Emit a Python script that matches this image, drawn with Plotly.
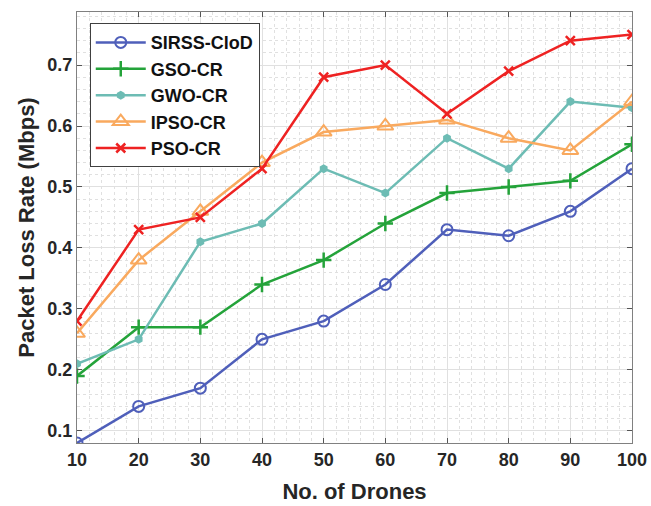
import plotly.graph_objects as go

drones = [10, 20, 30, 40, 50, 60, 70, 80, 90, 100]
sirss = [0.08, 0.14, 0.17, 0.25, 0.28, 0.34, 0.43, 0.42, 0.46, 0.53]
gso = [0.19, 0.27, 0.27, 0.34, 0.38, 0.44, 0.49, 0.50, 0.51, 0.57]
gwo = [0.21, 0.25, 0.41, 0.44, 0.53, 0.49, 0.58, 0.53, 0.64, 0.63]
ipso = [0.26, 0.38, 0.46, 0.54, 0.59, 0.60, 0.61, 0.58, 0.56, 0.64]
pso = [0.28, 0.43, 0.45, 0.53, 0.68, 0.70, 0.62, 0.69, 0.74, 0.75]

series = [
    ("SIRSS-CloD", sirss, "#4f5fba", dict(symbol="circle-open", size=11, line=dict(width=2))),
    ("GSO-CR", gso, "#24a33a", dict(symbol="cross-thin", size=11, line=dict(width=2.5, color="#24a33a"))),
    ("GWO-CR", gwo, "#6dbcb4", dict(symbol="hexagon", size=9)),
    ("IPSO-CR", ipso, "#f9a95e", dict(symbol="triangle-up-open", size=14, line=dict(width=2))),
    ("PSO-CR", pso, "#ee2222", dict(symbol="x-thin", size=9, line=dict(width=2.5, color="#ee2222"))),
]

fig = go.Figure()
for name, vals, color, mk in series:
    fig.add_trace(go.Scatter(x=drones, y=vals, name=name, mode="lines+markers",
                             line=dict(color=color, width=2.5),
                             marker=dict(color=color, **mk)))

font = "Liberation Sans, Arial, sans-serif"
axis_common = dict(showline=True, linecolor="#808080", linewidth=1, mirror="ticks",
                   ticks="inside", ticklen=5, tickcolor="#555555",
                   showgrid=True, gridcolor="#e0e0e0", gridwidth=1, zeroline=False,
                   tickfont=dict(family=font, size=18, color="#262626", weight="bold"))
fig.update_xaxes(range=[10, 100], dtick=10, tick0=10, automargin=False,
                 title=dict(text="No. of Drones", font=dict(family=font, size=22, color="#262626", weight="bold")),
                 minor=dict(dtick=2, showgrid=True, gridcolor="#e0e0e0", griddash="dot", ticks=""),
                 **axis_common)
fig.update_yaxes(range=[0.08, 0.787], dtick=0.1, tick0=0.1, automargin=True,
                 title=dict(text="Packet Loss Rate (Mbps)", standoff=6,
                            font=dict(family=font, size=22, color="#262626", weight="bold")),
                 minor=dict(dtick=0.02, tick0=0.1, showgrid=True, gridcolor="#e0e0e0", griddash="dot", ticks=""),
                 **axis_common)

fig.update_layout(
    width=651, height=506,
    margin=dict(l=77, r=19, t=12, b=63),
    plot_bgcolor="white", paper_bgcolor="white",
    font=dict(family=font, color="#262626"),
    legend=dict(x=0.023, y=0.974, xanchor="left", yanchor="top",
                bgcolor="white", bordercolor="#404040", borderwidth=1,
                font=dict(family=font, size=18, color="#111111", weight="bold"),
                itemwidth=50, tracegroupgap=0),
    showlegend=True,
)

fig.write_html("out.html", config={"displayModeBar": False},
               post_script="document.body.style.margin='0';")
